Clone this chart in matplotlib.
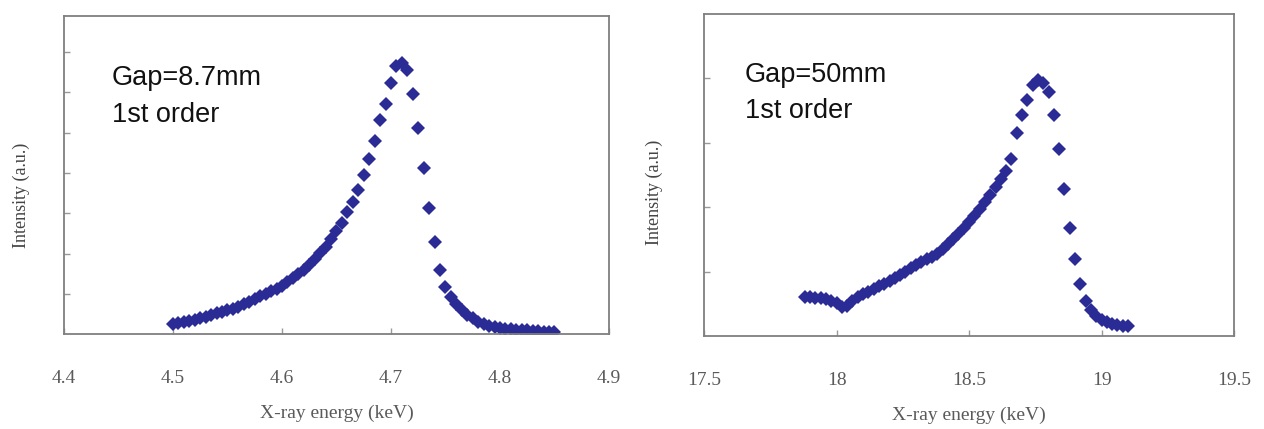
import matplotlib.pyplot as plt

# Gap = 8.7 mm, 1st order harmonic
energy_a = [4.500, 4.505, 4.510, 4.515, 4.520, 4.525, 4.530, 4.535, 4.540, 4.545,
            4.550, 4.555, 4.560, 4.565, 4.570, 4.575, 4.580, 4.585, 4.590, 4.595,
            4.600, 4.605, 4.610, 4.615, 4.620, 4.625, 4.630, 4.635, 4.640, 4.645,
            4.650, 4.655, 4.660, 4.665, 4.670, 4.675, 4.680, 4.685, 4.690, 4.695,
            4.700, 4.705, 4.710, 4.715, 4.720, 4.725, 4.730, 4.735, 4.740, 4.745,
            4.750, 4.755, 4.760, 4.765, 4.770, 4.775, 4.780, 4.785, 4.790, 4.795,
            4.800, 4.805, 4.810, 4.815, 4.820, 4.825, 4.830, 4.835, 4.840, 4.845,
            4.850]
intensity_a = [0.24, 0.27, 0.30, 0.33, 0.36, 0.39, 0.43, 0.47, 0.51, 0.55,
               0.59, 0.63, 0.68, 0.74, 0.80, 0.87, 0.94, 1.00, 1.06, 1.12,
               1.20, 1.29, 1.39, 1.49, 1.60, 1.72, 1.86, 2.01, 2.17, 2.35,
               2.55, 2.77, 3.02, 3.28, 3.58, 3.95, 4.36, 4.80, 5.31, 5.72,
               6.24, 6.66, 6.74, 6.55, 5.97, 5.13, 4.13, 3.14, 2.29, 1.60,
               1.18, 0.92, 0.74, 0.60, 0.48, 0.39, 0.31, 0.25, 0.20, 0.17,
               0.15, 0.13, 0.12, 0.11, 0.10, 0.09, 0.08, 0.07, 0.06, 0.05,
               0.05]

# Gap = 50 mm, 1st order harmonic
energy_b = [17.88, 17.90, 17.92, 17.94, 17.96, 17.98, 18.00, 18.02, 18.04, 18.06,
            18.08, 18.10, 18.12, 18.14, 18.16, 18.18, 18.20, 18.22, 18.24, 18.26,
            18.28, 18.30, 18.32, 18.34, 18.36, 18.38, 18.40, 18.42, 18.44, 18.46,
            18.48, 18.50, 18.52, 18.54, 18.56, 18.58, 18.60, 18.62, 18.64, 18.66,
            18.68, 18.70, 18.72, 18.74, 18.76, 18.78, 18.80, 18.82, 18.84, 18.86,
            18.88, 18.90, 18.92, 18.94, 18.96, 18.98, 19.00, 19.02, 19.04, 19.06,
            19.08, 19.10]
intensity_b = [0.60, 0.60, 0.59, 0.59, 0.58, 0.55, 0.51, 0.45, 0.47, 0.55,
               0.61, 0.65, 0.69, 0.73, 0.77, 0.81, 0.85, 0.90, 0.95, 1.00,
               1.05, 1.10, 1.15, 1.19, 1.23, 1.28, 1.35, 1.43, 1.51, 1.59,
               1.68, 1.77, 1.87, 1.97, 2.08, 2.19, 2.31, 2.43, 2.56, 2.75,
               3.15, 3.43, 3.66, 3.90, 3.98, 3.93, 3.79, 3.43, 2.91, 2.29,
               1.68, 1.20, 0.80, 0.55, 0.40, 0.31, 0.25, 0.21, 0.19, 0.17,
               0.16, 0.15]

xticks_a = [4.4, 4.5, 4.6, 4.7, 4.8, 4.9]
xticklabels_a = ['4.4', '4.5', '4.6', '4.7', '4.8', '4.9']
xticks_b = [17.5, 18.0, 18.5, 19.0, 19.5]
xticklabels_b = ['17.5', '18', '18.5', '19', '19.5']

blue = '#2b2b96'
grey = '#7f7f7f'
serif = ['Liberation Serif', 'DejaVu Serif']
sans = ['Liberation Sans', 'DejaVu Sans']

fig = plt.figure(figsize=(12.64, 4.29), dpi=100)
ax1 = fig.add_axes([0.0506, 0.2214, 0.4312, 0.7413])
ax2 = fig.add_axes([0.5570, 0.2168, 0.4193, 0.7506])

panels = [
    (ax1, energy_a, intensity_a, xticks_a, xticklabels_a, (4.4, 4.9), (0, 7.9),
     range(1, 8), 'Gap=8.7mm', (-0.062, 0.437), (0.088, 0.805, 0.689)),
    (ax2, energy_b, intensity_b, xticks_b, xticklabels_b, (17.5, 19.5), (0, 5.0),
     range(1, 5), 'Gap=50mm', (-0.078, 0.447), (0.077, 0.81, 0.699)),
]

for ax, x, y, xt, xtl, xl, yl, yt, gap, ylab_pos, txt in panels:
    ax.plot(x, y, 'D', color=blue, markersize=7.5, markeredgewidth=0)
    ax.set_xlim(*xl)
    ax.set_ylim(*yl)
    ax.set_xticks(xt)
    ax.set_xticklabels(xtl, family=serif, fontsize=14, color='#5a5a5a')
    ax.set_yticks(list(yt))
    ax.set_yticklabels([])
    ax.tick_params(axis='both', direction='in', length=4, width=1, color='#999999', pad=26)
    for s in ax.spines.values():
        s.set_color(grey)
        s.set_linewidth(1.3)
    ax.set_xlabel('X-ray energy (keV)', family=serif, fontsize=14, color='#5a5a5a', labelpad=13)
    ax.set_ylabel('Intensity (a.u.)', family=serif, fontsize=13, color='#444444')
    ax.yaxis.set_label_coords(*ylab_pos)
    # annotation of undulator gap and harmonic
    ax.text(txt[0], txt[1], gap, transform=ax.transAxes, fontsize=19.5,
            family=sans, color='#111111', va='center')
    ax.text(txt[0], txt[2], '1st order', transform=ax.transAxes, fontsize=19.5,
            family=sans, color='#111111', va='center')

fig.savefig('out.png', dpi=100)
